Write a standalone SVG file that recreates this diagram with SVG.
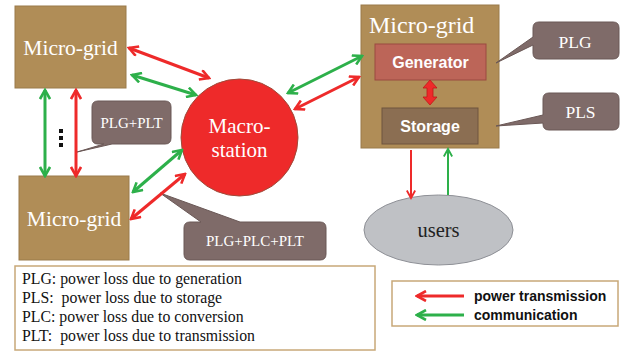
<svg xmlns="http://www.w3.org/2000/svg" width="629" height="354" viewBox="0 0 629 354">
<defs>
<style>
.mg{fill:#B08D57;stroke:#9A7A4A;stroke-width:1}
.mgt{font-family:"Liberation Serif",serif;font-size:21.5px;fill:#fff}
.call{fill:#7F6B69;stroke:#6A5856;stroke-width:1}
.callt{font-family:"Liberation Serif",serif;font-size:15px;fill:#fff}
.callb{font-family:"Liberation Serif",serif;font-size:17.5px;fill:#fff}
.red{stroke:#EE2A2A;stroke-width:3;fill:none}
.grn{stroke:#2DB04A;stroke-width:3;fill:none}
.redthin{stroke:#EE2A2A;stroke-width:2;fill:none}
.grnthin{stroke:#2DB04A;stroke-width:2;fill:none}
.leg{font-family:"Liberation Serif",serif;font-size:15.8px;fill:#111;white-space:pre}
.bold{font-family:"Liberation Sans",sans-serif;font-weight:bold;font-size:14px;fill:#111}
</style>
<marker id="hr" viewBox="0 0 12 12" refX="10" refY="6" markerWidth="12" markerHeight="12" markerUnits="userSpaceOnUse" orient="auto-start-reverse">
<path d="M1,1 L10,6 L1,11" fill="none" stroke="#EE2A2A" stroke-width="2.6" stroke-linejoin="miter"/>
</marker>
<marker id="hg" viewBox="0 0 12 12" refX="10" refY="6" markerWidth="12" markerHeight="12" markerUnits="userSpaceOnUse" orient="auto-start-reverse">
<path d="M1,1 L10,6 L1,11" fill="none" stroke="#2DB04A" stroke-width="2.6" stroke-linejoin="miter"/>
</marker>
<marker id="hrs" viewBox="0 0 12 12" refX="10" refY="6" markerWidth="10" markerHeight="10" markerUnits="userSpaceOnUse" orient="auto-start-reverse">
<path d="M1,1 L10,6 L1,11" fill="none" stroke="#EE2A2A" stroke-width="2.2"/>
</marker>
<marker id="hgs" viewBox="0 0 12 12" refX="10" refY="6" markerWidth="10" markerHeight="10" markerUnits="userSpaceOnUse" orient="auto-start-reverse">
<path d="M1,1 L10,6 L1,11" fill="none" stroke="#2DB04A" stroke-width="2.2"/>
</marker>
</defs>
<rect width="629" height="354" fill="#fff"/>

<g id="microgrid-topleft">
<rect class="mg" x="15" y="6" width="111" height="82"/>
<text class="mgt" x="70.5" y="55" text-anchor="middle">Micro-grid</text>
</g>

<g id="microgrid-bottomleft">
<rect class="mg" x="19" y="176" width="110" height="84"/>
<text class="mgt" x="74" y="226" text-anchor="middle">Micro-grid</text>
</g>

<g id="macro-station">
<circle cx="239.5" cy="137.5" r="58.5" fill="#EE2A2A" stroke="#A04A3A" stroke-width="1"/>
<text x="239.5" y="133" text-anchor="middle" font-family="Liberation Serif,serif" font-size="21" fill="#fff">Macro-</text>
<text x="239.5" y="157" text-anchor="middle" font-family="Liberation Serif,serif" font-size="21" fill="#fff">station</text>
</g>

<g id="microgrid-right">
<rect class="mg" x="361" y="5" width="138" height="143"/>
<text x="369" y="33" font-family="Liberation Serif,serif" font-size="24" fill="#fff">Micro-grid</text>
<g id="generator">
<rect x="375" y="44" width="111" height="36" fill="#BC6558" stroke="#9A4A40" stroke-width="1"/>
<text x="430.5" y="68" text-anchor="middle" font-family="Liberation Sans,sans-serif" font-weight="bold" font-size="16" fill="#fff">Generator</text>
</g>
<g id="storage">
<rect x="382" y="108" width="96" height="36" fill="#8B6E52" stroke="#6E553E" stroke-width="1"/>
<text x="430" y="132" text-anchor="middle" font-family="Liberation Sans,sans-serif" font-weight="bold" font-size="16" fill="#fff">Storage</text>
</g>
<path d="M430,80 L437,88 L433,88 L433,97 L437,97 L430,105 L423,97 L427,97 L427,88 L423,88 Z" fill="#EE2A2A" stroke="#C01818" stroke-width="0.8"/>
</g>

<g id="users">
<ellipse cx="438.5" cy="230" rx="74.5" ry="35" fill="#BFC1C5" stroke="#8E9096" stroke-width="1"/>
<text x="438.5" y="237" text-anchor="middle" font-family="Liberation Serif,serif" font-size="20.5" fill="#222">users</text>
</g>

<g id="callout-plg-plt">
<path class="call" d="M98,101 H165 Q171,101 171,107 V138 Q171,144 165,144 H112 L77,152 L104,144 H98 Q92,144 92,138 V107 Q92,101 98,101 Z"/>
<text class="callt" x="131.5" y="128" text-anchor="middle">PLG+PLT</text>
</g>

<g id="callout-plg-plc-plt">
<path class="call" d="M190,222 H201 L160,193 L240,222 H320 Q326,222 326,228 V254 Q326,260 320,260 H190 Q184,260 184,254 V228 Q184,222 190,222 Z"/>
<text class="callt" x="255" y="246" text-anchor="middle">PLG+PLC+PLT</text>
</g>

<g id="callout-plg">
<path class="call" d="M539,22 H613 Q619,22 619,28 V53 Q619,59 613,59 H539 Q533,59 533,53 V45 L496,63 L533,37 V28 Q533,22 539,22 Z"/>
<text class="callb" x="575" y="48" text-anchor="middle">PLG</text>
</g>

<g id="callout-pls">
<path class="call" d="M549,93 H613 Q619,93 619,99 V124 Q619,130 613,130 H549 Q543,130 543,124 V123 L496,126 L543,115 V99 Q543,93 549,93 Z"/>
<text class="callb" x="580.5" y="118" text-anchor="middle">PLS</text>
</g>

<g id="connectors">
<line class="red" x1="129" y1="48" x2="209" y2="78" marker-start="url(#hr)" marker-end="url(#hr)"/>
<line class="grn" x1="132" y1="75" x2="196" y2="95" marker-start="url(#hg)" marker-end="url(#hg)"/>
<line class="grn" x1="45" y1="90" x2="45" y2="176" marker-start="url(#hg)" marker-end="url(#hg)"/>
<line class="red" x1="76" y1="90" x2="76" y2="176" marker-start="url(#hr)" marker-end="url(#hr)"/>
<line class="grn" x1="133" y1="192" x2="182" y2="150" marker-start="url(#hg)" marker-end="url(#hg)"/>
<line class="red" x1="131" y1="219" x2="185" y2="174" marker-start="url(#hr)" marker-end="url(#hr)"/>
<line class="grn" x1="288" y1="93" x2="362" y2="56" marker-start="url(#hg)" marker-end="url(#hg)"/>
<line class="red" x1="295" y1="109" x2="359" y2="77" marker-start="url(#hr)" marker-end="url(#hr)"/>
<line class="redthin" x1="411" y1="150" x2="411" y2="198" marker-end="url(#hrs)"/>
<line class="grnthin" x1="448" y1="195" x2="448" y2="149" marker-end="url(#hgs)"/>
</g>

<g id="dots" fill="#111">
<rect x="59" y="129" width="4" height="4"/>
<rect x="59" y="136" width="4" height="4"/>
<rect x="59" y="143" width="4" height="4"/>
</g>

<g id="legend-text">
<rect x="15" y="266" width="360" height="84" fill="#fff" stroke="#C8A878" stroke-width="1.5"/>
<text class="leg" x="22" y="284" xml:space="preserve">PLG: power loss due to generation</text>
<text class="leg" x="22" y="303" xml:space="preserve">PLS:  power loss due to storage</text>
<text class="leg" x="22" y="322" xml:space="preserve">PLC: power loss due to conversion</text>
<text class="leg" x="22" y="341" xml:space="preserve">PLT:  power loss due to transmission</text>
</g>

<g id="legend-arrows">
<rect x="392" y="281" width="226" height="45" fill="#fff" stroke="#C8A878" stroke-width="1.5"/>
<line class="red" x1="464" y1="296" x2="417" y2="296" marker-end="url(#hr)"/>
<line class="grn" x1="464" y1="315" x2="417" y2="315" marker-end="url(#hg)"/>
<text class="bold" x="474" y="301">power transmission</text>
<text class="bold" x="474" y="320">communication</text>
</g>
</svg>
